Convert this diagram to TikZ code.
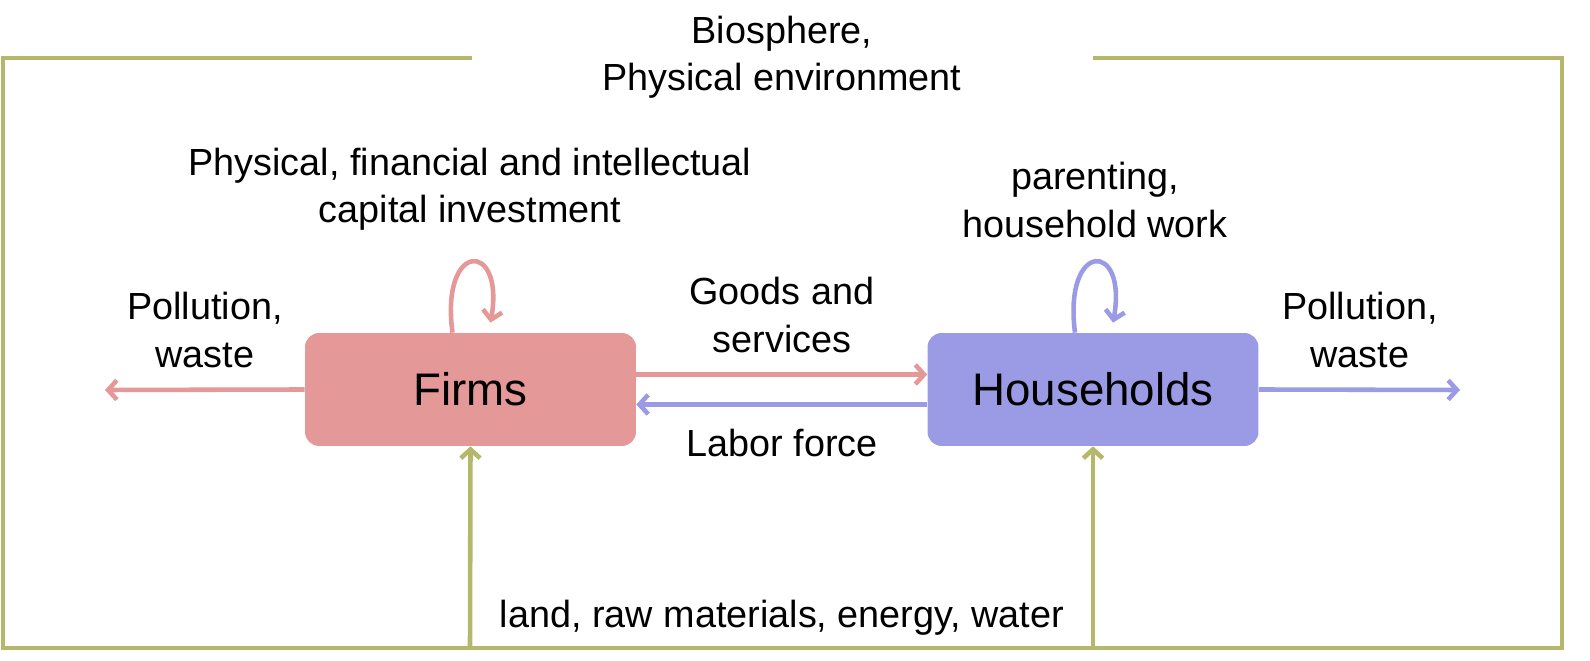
\documentclass[tikz,border=0pt]{standalone}
\usepackage{fontspec}
\setmainfont{Liberation Sans}
\usetikzlibrary{arrows.meta}
\definecolor{fr}{HTML}{E59898}
\definecolor{hh}{HTML}{9B9BE5}
\definecolor{gr}{HTML}{B5B86A}
\begin{document}
\begin{tikzpicture}[x=0.02cm,y=-0.02cm,
 ln/.style={line width=2.6pt,-{Straight Barb[length=5pt,width=11pt]}},
 box/.style={rounded corners=8pt,minimum width=6.62cm,minimum height=2.26cm,font=\fontsize{26}{30}\selectfont},
 lab/.style={font=\fontsize{21.5}{27}\selectfont,align=center}]
\useasboundingbox (0,0) rectangle (1590,661);
\draw[gr,line width=2.6pt] (472,58) -- (3,58) -- (3,648) -- (1562,648) -- (1562,58) -- (1093,58);
\node[box,fill=fr] (f) at (470.5,389.5) {Firms};
\node[box,fill=hh] (h) at (1093,389.5) {Households};
\coordinate (pl) at (105,390); \coordinate (pr) at (1460,390);
\coordinate (gf) at (470,648); \coordinate (gh) at (1093,648);
\draw[ln,fr] ([yshift=0.3cm]f.east) -- ([yshift=0.3cm]h.west);
\draw[ln,hh] ([yshift=-0.3cm]h.west) -- ([yshift=-0.3cm]f.east);
\draw[ln,fr] (f.west) -- (pl);
\draw[ln,hh] (h.east) -- (pr);
\draw[ln,gr] (gf) -- (f.south);
\draw[ln,gr] (gh) -- (h.south);
\draw[ln,fr] ([xshift=-0.36cm]f.north) .. controls (440,240) and (505,240) .. ([xshift=0.4cm,yshift=0.2cm]f.north);
\draw[ln,hh] ([xshift=-0.36cm]h.north) .. controls (1063,240) and (1128,240) .. ([xshift=0.4cm,yshift=0.2cm]h.north);
\node[lab] (t1) at (782,57) {Biosphere,\\Physical environment};
\node[lab] (t2) at (470,189) {Physical, financial and intellectual\\capital investment};
\node[lab] (t3) at (1095,200) {parenting,\\household work};
\node[lab] (t4) at (205,330) {Pollution,\\waste};
\node[lab] (t5) at (1360,330) {Pollution,\\waste};
\node[lab] (t6) at (782,315) {Goods and\\services};
\node[lab] (t7) at (782,443) {Labor force};
\node[lab] (t8) at (782,618) {land, raw materials, energy, water};
\end{tikzpicture}
\end{document}
